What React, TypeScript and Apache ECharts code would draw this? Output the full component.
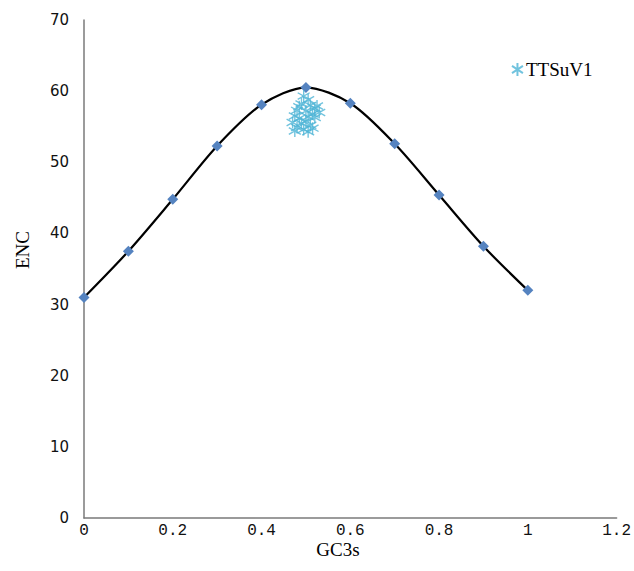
import React, { useEffect, useRef } from "react";
import * as echarts from "echarts";

const gc3sGrid = [0, 0.1, 0.2, 0.3, 0.4, 0.5, 0.6, 0.7, 0.8, 0.9, 1.0];
const expectedEnc = [31, 37.5, 44.8, 52.3, 58.1, 60.5, 58.3, 52.6, 45.4, 38.2, 32];

const ttsuvGc3s = [0.495, 0.505, 0.49, 0.51, 0.52, 0.525, 0.48, 0.5, 0.515, 0.475, 0.485, 0.505, 0.52, 0.47, 0.49, 0.5, 0.51, 0.48, 0.495, 0.505, 0.475, 0.515, 0.53, 0.485];
const ttsuvEnc = [59.3, 58.8, 58.2, 58.0, 57.6, 57.9, 57.3, 57.2, 56.8, 56.5, 56.2, 56.4, 56.3, 55.6, 55.5, 55.8, 55.2, 54.9, 54.6, 54.3, 54.4, 54.8, 57.0, 57.8];

const xTicks = [0, 0.2, 0.4, 0.6, 0.8, 1, 1.2];
const yTicks = [0, 10, 20, 30, 40, 50, 60, 70];

const asterisk = "path://M5 0 L5 10 M0.8 2.2 L9.2 7.8 M9.2 2.2 L0.8 7.8";

export default function App() {
  const ref = useRef<HTMLDivElement>(null);
  useEffect(() => {
    if (!ref.current) return;
    const chart = echarts.init(ref.current, null, { renderer: "svg" });
    chart.setOption({
      animation: false,
      backgroundColor: "#ffffff",
      grid: { left: 84, right: 14, top: 20, bottom: 53, containLabel: false },
      legend: {
        show: true,
        data: ["TTSuV1"],
        left: 506,
        top: 55,
        itemWidth: 13,
        itemHeight: 13,
        itemGap: 4,
        textStyle: { fontFamily: "Liberation Serif", fontSize: 19, color: "#000", padding: [0, 0, 0, -3] },
      },
      xAxis: {
        type: "value",
        min: 0,
        max: 1.2,
        interval: 0.2,
        axisLine: { lineStyle: { color: "#7a7a7a", width: 1.5 } },
        axisTick: { show: false },
        splitLine: { show: false },
        axisLabel: {
          margin: 5,
          fontFamily: "Liberation Mono",
          fontSize: 16,
          color: "#111",
          formatter: (v: number) => {
            const t = xTicks.find((k) => Math.abs(k - v) < 1e-6);
            return t === undefined ? "" : String(t);
          },
        },
      },
      yAxis: {
        type: "value",
        min: 0,
        max: 70,
        interval: 10,
        axisLine: { show: true, lineStyle: { color: "#7a7a7a", width: 1.5 } },
        axisTick: { show: false },
        splitLine: { show: false },
        axisLabel: {
          margin: 15,
          fontFamily: "DejaVu Sans",
          fontSize: 15,
          color: "#111",
          formatter: (v: number) => (yTicks.includes(v) ? String(v) : ""),
        },
      },
      graphic: [
        {
          type: "text",
          x: 22,
          y: 250,
          rotation: Math.PI / 2,
          style: {
            text: "ENC",
            fontFamily: "Liberation Serif",
            fontSize: 19,
            fill: "#000",
            align: "center",
            verticalAlign: "middle",
          },
        },
        {
          type: "text",
          x: 338,
          y: 549,
          style: {
            text: "GC3s",
            fontFamily: "Liberation Serif",
            fontSize: 19,
            fill: "#000",
            align: "center",
            verticalAlign: "middle",
          },
        },
      ],
      series: [
        {
          name: "Expected",
          type: "line",
          smooth: 0.3,
          data: gc3sGrid.map((x, i) => [x, expectedEnc[i]]),
          lineStyle: { color: "#000", width: 2.2 },
          symbol: "diamond",
          symbolSize: 11,
          itemStyle: { color: "#5583c0" },
          z: 2,
        },
        {
          name: "TTSuV1",
          type: "scatter",
          data: ttsuvGc3s.map((x, i) => [x, ttsuvEnc[i]]),
          symbol: asterisk,
          symbolSize: 12,
          itemStyle: { color: "#4db4d6", borderColor: "#4db4d6", borderWidth: 1.4 },
          z: 3,
        },
      ],
    });
    return () => chart.dispose();
  }, []);
  return <div ref={ref} style={{ width: 634, height: 571, position: "absolute", left: 0, top: 0 }} />;
}
